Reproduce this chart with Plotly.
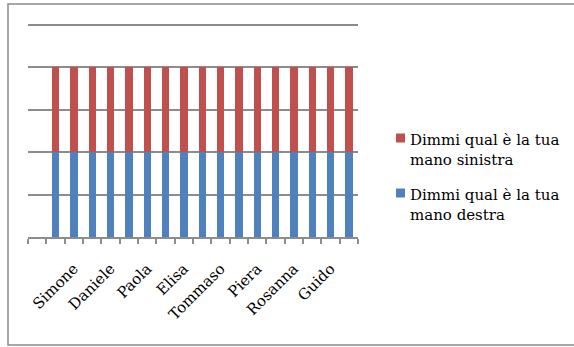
import plotly.graph_objects as go

# Categories along the x axis (one slot per pupil; only every other name is printed)
categorie = ["", "", "Simone", "", "Daniele", "", "Paola", "", "Elisa", "",
             "Tommaso", "", "Piera", "", "Rosanna", "", "Guido", ""]
# Answers per pupil for each question
destra = [None, 1, 1, 1, 1, 1, 1, 1, 1, 1, 1, 1, 1, 1, 1, 1, 1, 1]
sinistra = [None, 1, 1, 1, 1, 1, 1, 1, 1, 1, 1, 1, 1, 1, 1, 1, 1, 1]
serie_destra = "Dimmi qual è la tua<br>mano destra"
serie_sinistra = "Dimmi qual è la tua<br>mano sinistra"

BLUE = "#4F81BD"
RED = "#C0504D"
GRID = "#8C8C8C"
FONT = "DejaVu Serif"

W, H = 574, 347
ML, MR, MT, MB = 28, 216, 16, 110
PW, PH = W - ML - MR, H - MT - MB
Y_TOP = 2.6  # headroom above the last gridline (2.5)


def px_x(x):
    return (x - ML) / PW


def px_y(y):
    return 1 - (y - MT) / PH


pos = list(range(1, len(categorie) + 1))
label_pos = [p for p, c in zip(pos, categorie) if c]
label_txt = [c for c in categorie if c]

fig = go.Figure()
fig.add_trace(go.Bar(x=pos, y=destra, name=serie_destra, marker=dict(color=BLUE, line=dict(width=0)),
                     width=0.4, showlegend=False))
fig.add_trace(go.Bar(x=pos, y=sinistra, name=serie_sinistra, marker=dict(color=RED, line=dict(width=0)),
                     width=0.4, showlegend=False))
# carrier trace for the label axis
fig.add_trace(go.Scatter(x=label_pos, y=[0] * len(label_pos), xaxis="x2", mode="markers",
                         marker=dict(opacity=0), hoverinfo="skip", showlegend=False))

fig.update_layout(
    width=W, height=H,
    margin=dict(l=ML, r=MR, t=MT, b=MB, pad=0),
    paper_bgcolor="white", plot_bgcolor="white",
    barmode="stack", bargap=0.6,
    showlegend=False,
    font=dict(family=FONT, size=15, color="black"),
    xaxis=dict(range=[0.5, len(categorie) + 0.5], tickmode="array",
               tickvals=[p - 0.5 for p in pos] + [len(categorie) + 0.5],
               showticklabels=False, ticks="outside", ticklen=5, tickwidth=1.5, tickcolor=GRID,
               showline=True, linecolor=GRID, linewidth=1.5, showgrid=False, zeroline=False),
    xaxis2=dict(range=[0.5, len(categorie) + 0.5], overlaying="x", anchor="y", side="bottom",
                tickmode="array", tickvals=label_pos, ticktext=label_txt, tickangle=-45,
                ticks="", showline=False, showgrid=False, zeroline=False,
                ticklabelstandoff=19, tickfont=dict(family=FONT, size=15, color="black")),
    yaxis=dict(range=[0, Y_TOP], tickmode="array", tickvals=[0, 0.5, 1, 1.5, 2, 2.5],
               showticklabels=False, showgrid=True,
               gridcolor=GRID, gridwidth=1.5, zeroline=False, showline=False, ticks=""),
)

# outer chart border
fig.add_shape(type="rect", xref="paper", yref="paper",
              x0=px_x(8), x1=px_x(590), y0=px_y(345), y1=px_y(4),
              line=dict(color="#8A8A8A", width=1.5), fillcolor="rgba(0,0,0,0)", layer="below")

# legend: left-hand series above right-hand series
for name, color, top in [(serie_sinistra, RED, 133.5), (serie_destra, BLUE, 188.5)]:
    fig.add_shape(type="rect", xref="paper", yref="paper",
                  x0=px_x(396), x1=px_x(405), y0=px_y(top + 9), y1=px_y(top),
                  line=dict(width=0), fillcolor=color)
    fig.add_annotation(xref="paper", yref="paper", x=px_x(409), y=px_y(top - 4),
                       xanchor="left", yanchor="top", align="left", showarrow=False,
                       borderpad=0, text=name,
                       font=dict(family=FONT, size=15, color="black"))

fig.write_html("out.html")
